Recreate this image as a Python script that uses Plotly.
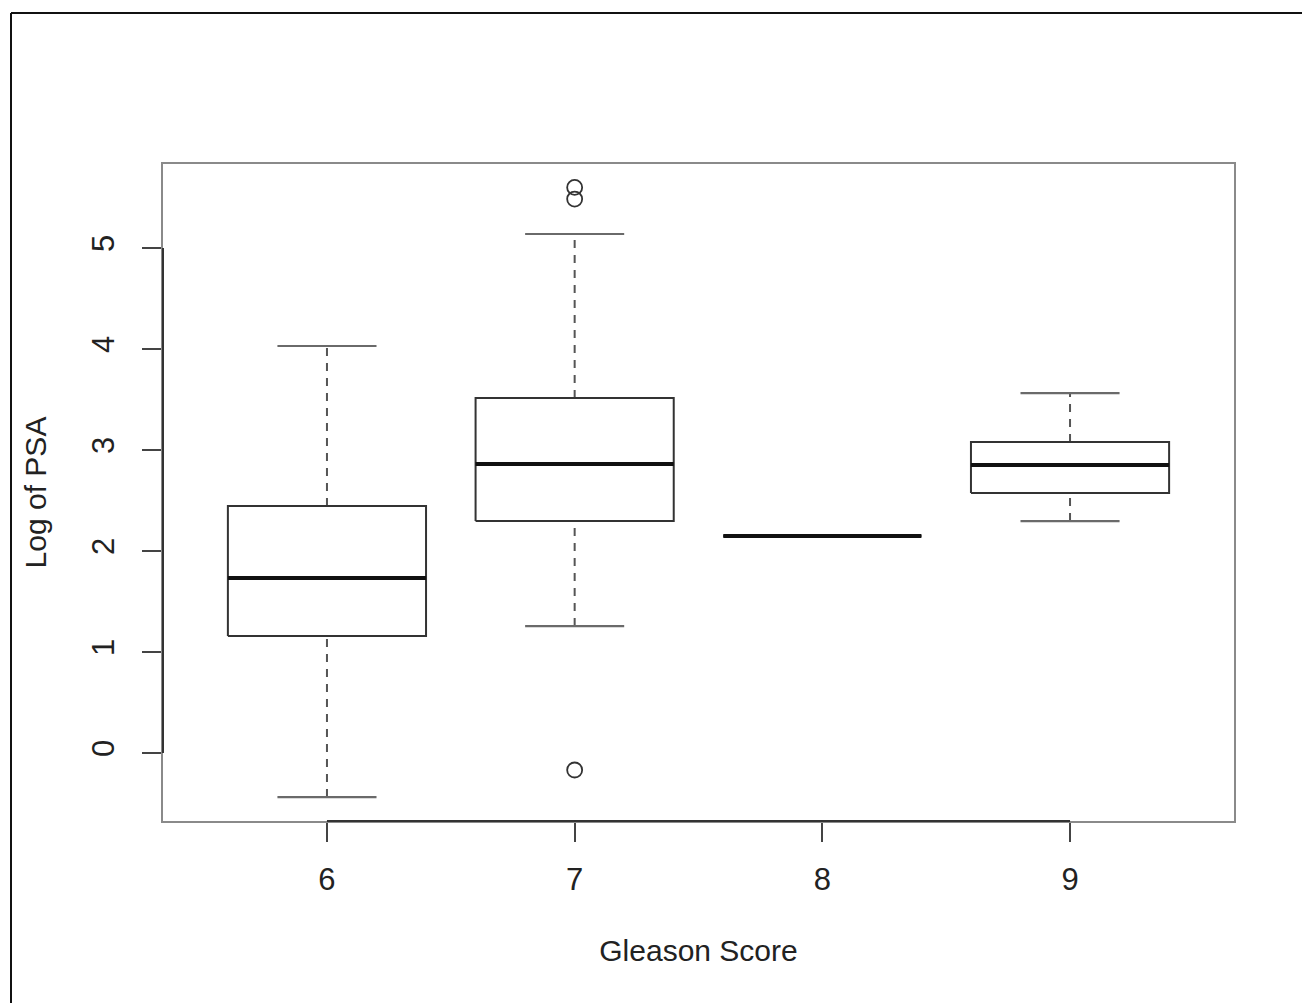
import plotly.graph_objects as go

# Gleason score groups and the five-number summaries of log(PSA)
gleason = [6, 7, 8, 9]
q1 = [1.158, 2.297, 2.149, 2.574]
median = [1.733, 2.861, 2.149, 2.851]
q3 = [2.446, 3.515, 2.149, 3.079]
whisker_low = [-0.436, 1.257, 2.149, 2.297]
whisker_high = [4.030, 5.139, 2.149, 3.564]

# Points beyond the whiskers
outlier_group = [7, 7, 7]
outlier_value = [5.600, 5.485, -0.168]

y_ticks = [0, 1, 2, 3, 4, 5]

BOX_HALF = 0.4
CAP_HALF = 0.2
FONT = "Liberation Sans, Arial, Helvetica, sans-serif"
INK = "#222222"

fig = go.Figure()


def seg(xs, ys, color, width, dash="solid"):
    fig.add_trace(go.Scatter(
        x=xs, y=ys, mode="lines",
        line=dict(color=color, width=width, dash=dash),
        hoverinfo="skip", showlegend=False,
    ))


for g, a, m, b, lo, hi in zip(gleason, q1, median, q3, whisker_low, whisker_high):
    # dashed whiskers
    seg([g, g], [b, hi], "#555555", 2, "8px,7px")
    seg([g, g], [lo, a], "#555555", 2, "8px,7px")
    # whisker caps
    seg([g - CAP_HALF, g + CAP_HALF], [hi, hi], "#6a6a6a", 2.2)
    seg([g - CAP_HALF, g + CAP_HALF], [lo, lo], "#6a6a6a", 2.2)
    # box
    seg([g - BOX_HALF, g + BOX_HALF, g + BOX_HALF, g - BOX_HALF, g - BOX_HALF],
        [a, a, b, b, a], "#333333", 2)
    # median
    seg([g - BOX_HALF, g + BOX_HALF], [m, m], "#111111", 4)

fig.add_trace(go.Scatter(
    x=outlier_group, y=outlier_value, mode="markers",
    marker=dict(symbol="circle-open", size=15, color="#333333",
                line=dict(width=1.8, color="#333333")),
    hoverinfo="skip", showlegend=False,
))

# plot region in pixels: left 163, right 1234, top 164, bottom 821
W, H = 1302, 1003
L, R, T, B = 163, 1234, 164, 821
pw, ph = R - L, B - T


def px_x(p):
    return (p - L) / pw


def px_y(p):
    return (B - p) / ph


shapes = [
    # outer figure border (left and top edges)
    dict(type="line", xref="paper", yref="paper",
         x0=px_x(11), x1=px_x(11), y0=px_y(13), y1=px_y(1030),
         line=dict(color="#111111", width=2)),
    dict(type="line", xref="paper", yref="paper",
         x0=px_x(11), x1=px_x(1330), y0=px_y(13), y1=px_y(13),
         line=dict(color="#111111", width=2)),
    # darker axis segments spanning the tick range
    dict(type="line", xref="x", yref="paper",
         x0=gleason[0], x1=gleason[-1], y0=0, y1=0,
         line=dict(color="#333333", width=2)),
    dict(type="line", xref="paper", yref="y",
         x0=0, x1=0, y0=y_ticks[0], y1=y_ticks[-1],
         line=dict(color="#333333", width=2)),
]

fig.update_layout(
    width=W, height=H,
    margin=dict(l=L, r=W - R, t=T, b=H - B),
    paper_bgcolor="white", plot_bgcolor="white",
    font=dict(family=FONT, size=30, color=INK),
    shapes=shapes,
    showlegend=False,
)

fig.update_xaxes(
    range=[5.338, 9.662], tickvals=gleason, ticktext=[str(v) for v in gleason],
    ticks="outside", ticklen=19, tickwidth=2, tickcolor="#444444",
    ticklabelstandoff=11,
    showgrid=False, zeroline=False,
    showline=True, mirror=True, linecolor="#8a8a8a", linewidth=2,
    tickfont=dict(size=31, color=INK),
    title=dict(text="Gleason Score", font=dict(size=30, color=INK), standoff=44),
)
fig.update_yaxes(
    range=[-0.673, 5.832], tickvals=y_ticks, ticktext=[str(v) for v in y_ticks],
    tickangle=-90,
    ticks="outside", ticklen=19, tickwidth=2, tickcolor="#444444",
    ticklabelstandoff=16,
    showgrid=False, zeroline=False,
    showline=True, mirror=True, linecolor="#8a8a8a", linewidth=2,
    tickfont=dict(size=31, color=INK),
    title=dict(text="Log of PSA", font=dict(size=30, color=INK), standoff=30),
)

fig.write_html("out.html")
